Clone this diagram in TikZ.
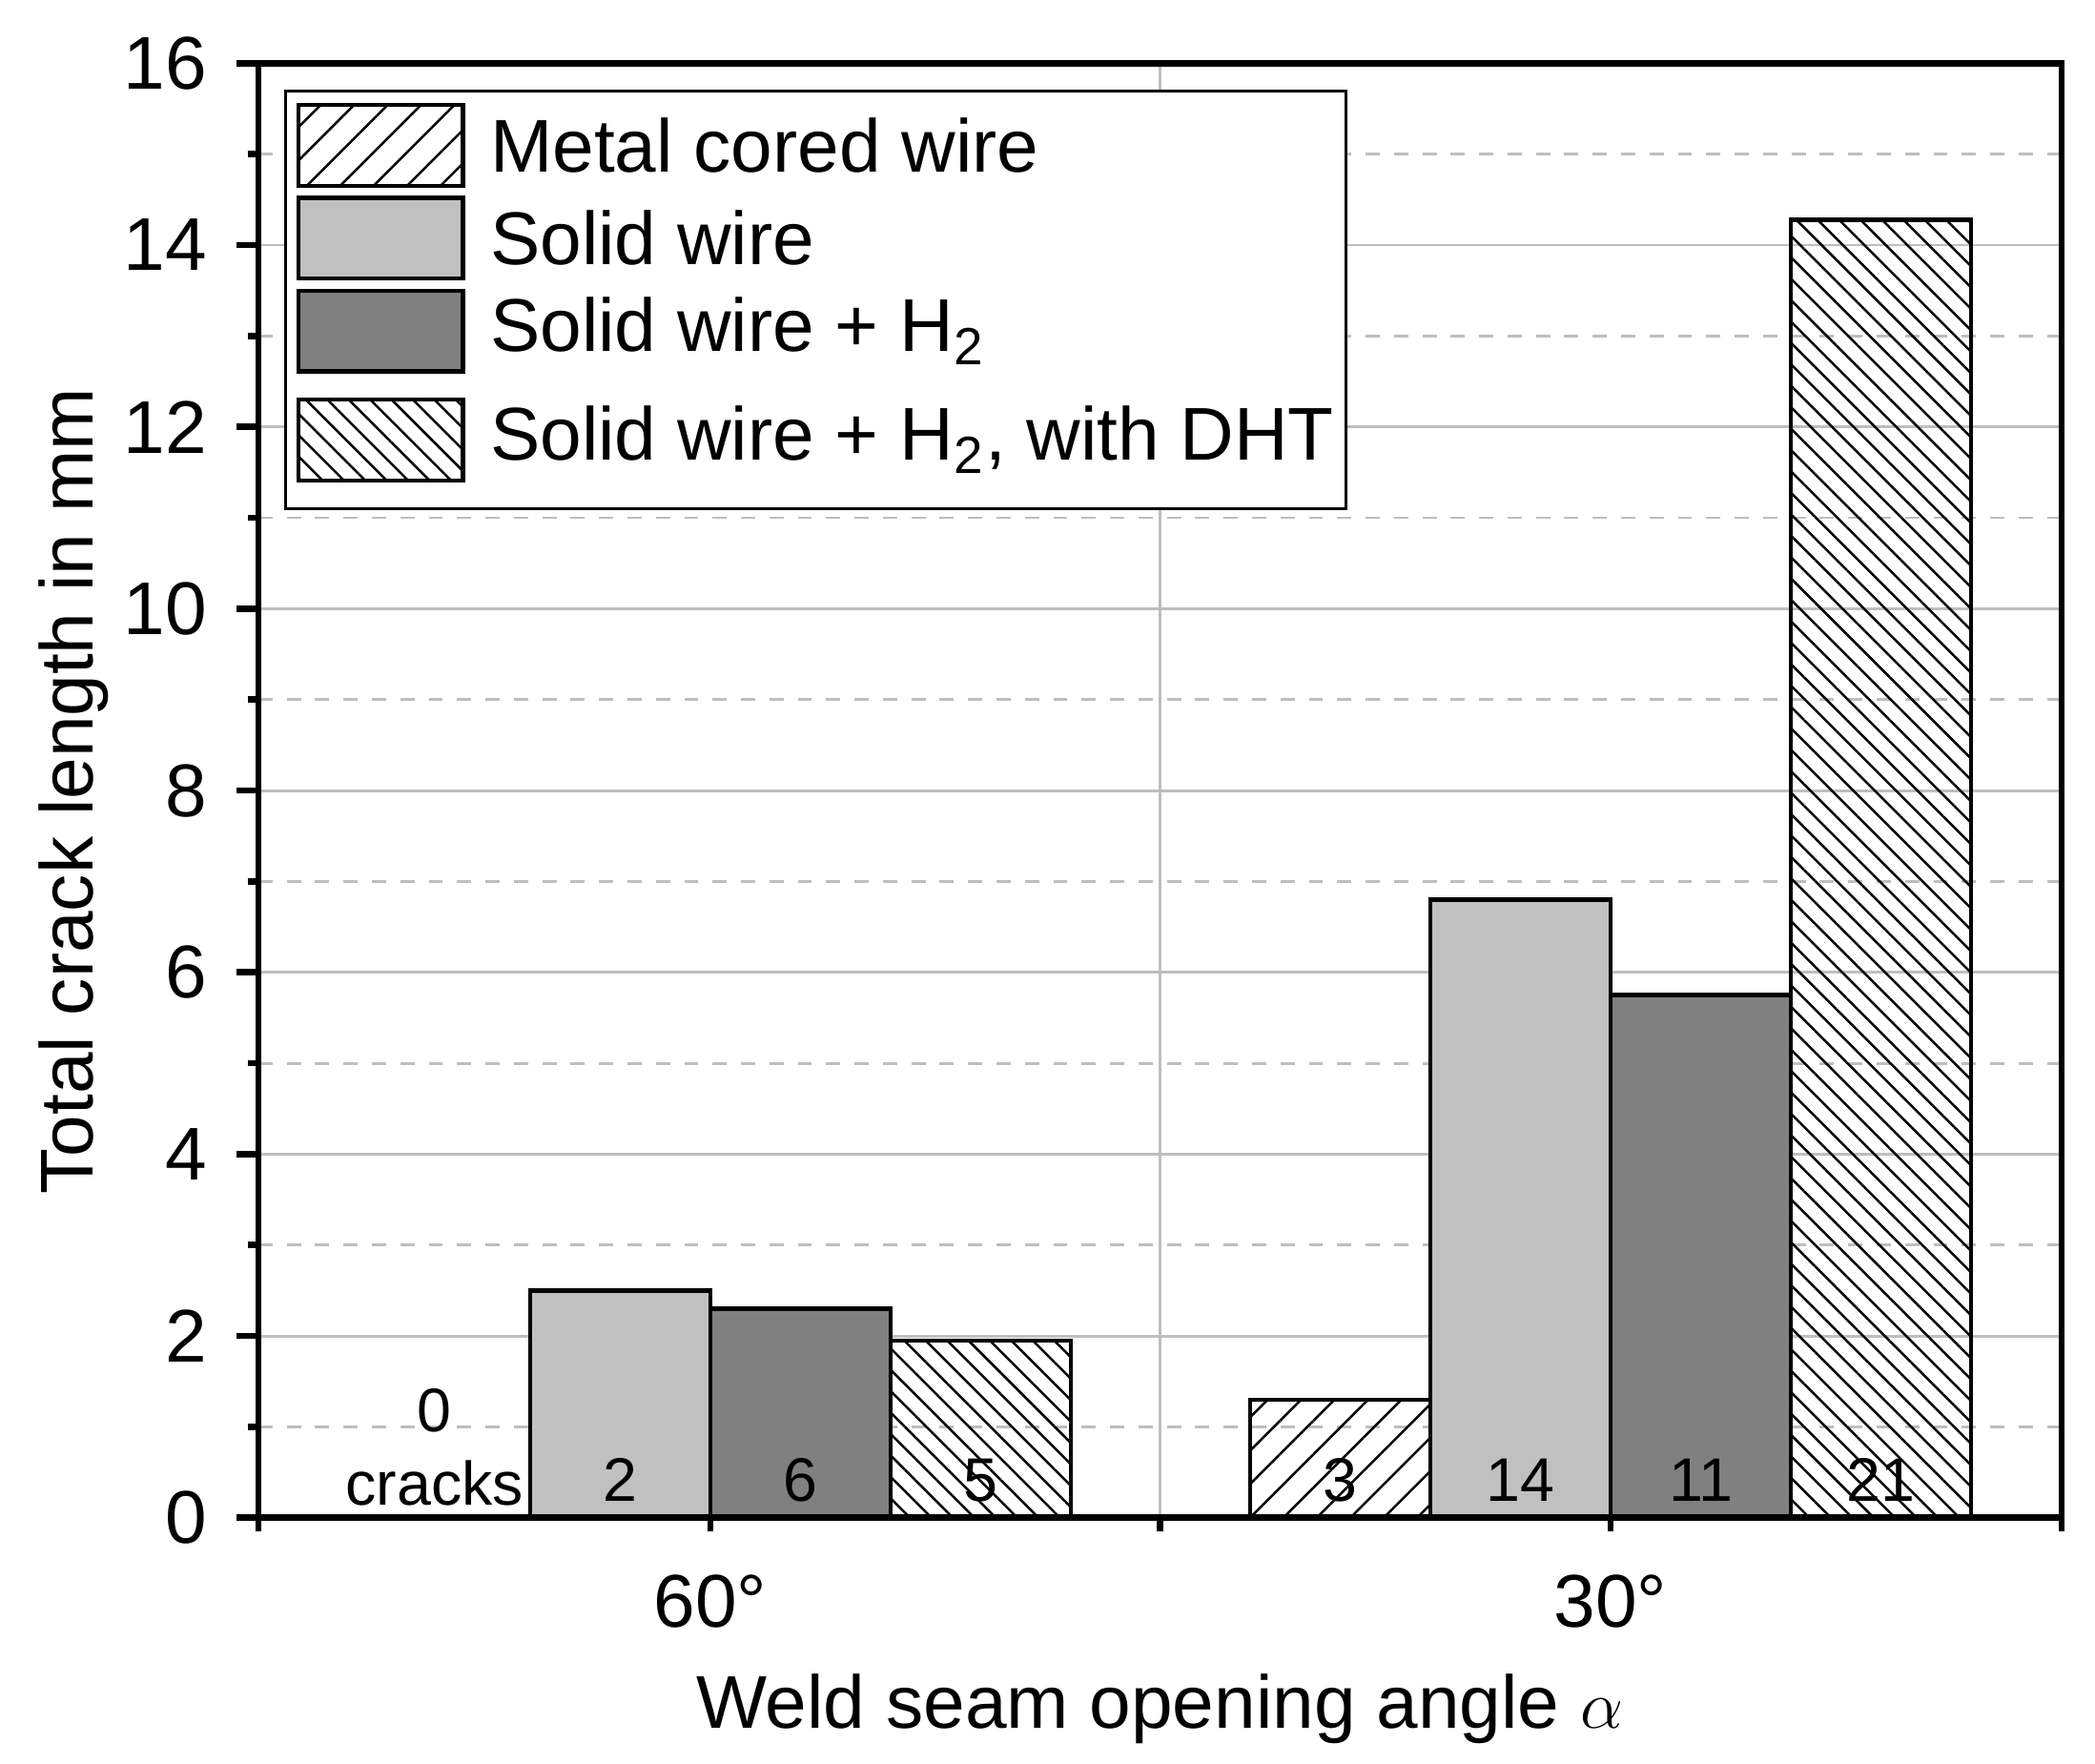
\documentclass[tikz,border=0pt]{standalone}
\usepackage{fontspec}
\setmainfont{Liberation Sans}
\usetikzlibrary{patterns.meta}
\tikzset{
 bar/.style={draw=black,line width=0.9pt},
 mcw/.style={bar,fill=white,pattern={Lines[angle=45,distance=5pt,line width=0.5pt]}},
 sw/.style={bar,fill={rgb,255:red,192;green,192;blue,192}},
 swh/.style={bar,fill={rgb,255:red,128;green,128;blue,128}},
 dht/.style={bar,pattern={Lines[angle=-45,distance=3.2pt,line width=0.5pt]}},
 lab/.style={font=\fontsize{15.8}{17}\selectfont},
 cnt/.style={font=\fontsize{13}{15}\selectfont},
 grid1/.style={draw={rgb,255:red,190;green,190;blue,190},line width=0.6pt},
 grid2/.style={grid1,dashed},
}
\begin{document}
\begin{tikzpicture}[x=0.01cm,y=-0.01cm]
\useasboundingbox (0,0) rectangle (1557,1311);
\def\py#1{1128-67.5625*#1}
% grid
\foreach \v in {2,4,...,14}{\draw[grid1] (192,{\py{\v}}) -- (1532,{\py{\v}});}
\foreach \v in {1,3,...,15}{\draw[grid2] (192,{\py{\v}}) -- (1532,{\py{\v}});}
\draw[grid1] (862,47) -- (862,1128);
% bars
\draw[sw]  (394,{\py{2.5}}) rectangle (528,1128);
\draw[swh] (528,{\py{2.3}}) rectangle (662,1128);
\draw[dht] (662,{\py{1.95}}) rectangle (796,1128);
\draw[mcw] (929,{\py{1.3}}) rectangle (1063,1128);
\draw[sw]  (1063,{\py{6.8}}) rectangle (1197,1128);
\draw[swh] (1197,{\py{5.75}}) rectangle (1331,1128);
\draw[dht] (1331,{\py{14.28}}) rectangle (1465,1128);
% counts
\node[cnt] (c0) at (323,1048) {0};
\node[cnt] (c0b) at (323,1102) {cracks};
\foreach \x/\t in {461/2,595/6,729/5,996/3,1130/14,1264/11,1398/21}{\node[cnt] at (\x,1100) {\t};}
% frame
\draw[line width=1.3pt] (192,47) rectangle (1532,1128);
\foreach \v in {0,2,...,16}{\draw[line width=1.3pt] (176,{\py{\v}}) -- (192,{\py{\v}});
 \node[lab,anchor=east] at (166,{\py{\v}}) {\v};}
\foreach \v in {1,3,...,15}{\draw[line width=1.3pt] (184,{\py{\v}}) -- (192,{\py{\v}});}
\foreach \x in {192,528,862,1197,1532}{\draw[line width=1.3pt] (\x,1128) -- (\x,1138);}
\node[lab] (g1) at (528,1190) {60°};
\node[lab] (g2) at (1197,1190) {30°};
\node[lab] (xl) at (862,1270) {Weld seam opening angle $\alpha$};
\node[lab,rotate=90] (yl) at (55,588) {Total crack length in mm};
% legend
\draw[fill=white,line width=0.6pt] (212,68) rectangle (1000,378);
\draw[mcw] (222,78) rectangle (344,138);
\draw[sw] (222,147) rectangle (344,207);
\draw[swh] (222,216) rectangle (344,276);
\draw[dht] (222,297) rectangle (344,357);
\node[lab,anchor=west] at (352,108) {Metal cored wire};
\node[lab,anchor=west] at (352,177) {Solid wire};
\node[lab,anchor=west] at (352,246) {Solid wire + H\textsubscript{2}};
\node[lab,anchor=west] at (352,327) {Solid wire + H\textsubscript{2}, with DHT};
\end{tikzpicture}
\end{document}
